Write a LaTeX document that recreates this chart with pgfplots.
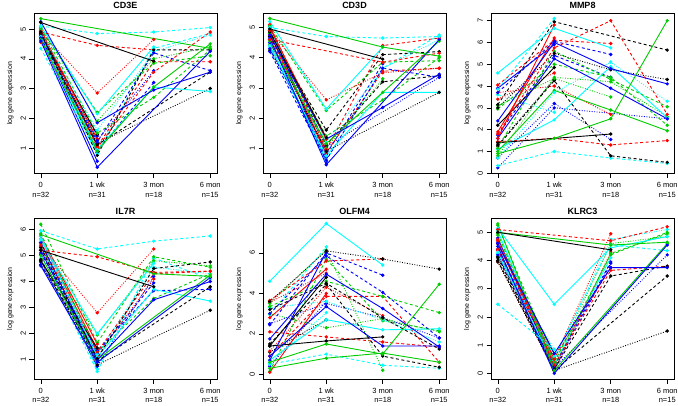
\documentclass[border=0pt]{standalone}
\usepackage{pgfplots}
\pgfplotsset{compat=1.18}
\usepackage{fontspec}
\setmainfont{Liberation Sans}
\definecolor{Rred}{RGB}{255,0,0}
\definecolor{Rgreen}{RGB}{0,205,0}
\definecolor{Rblue}{RGB}{0,0,255}
\definecolor{Rcyan}{RGB}{0,255,255}
\pgfplotsset{
 base/.style={line width=0.9pt, mark=*, mark size=1.2pt, mark options={solid}},
 S/.style={solid}, D/.style={dash pattern=on 3pt off 2.5pt}, T/.style={dash pattern=on 0.9pt off 1.6pt},
 k1/.style={base,black,S}, k2/.style={base,black,D}, k3/.style={base,black,T},
 r1/.style={base,Rred,S}, r2/.style={base,Rred,D}, r3/.style={base,Rred,T},
 g1/.style={base,Rgreen,S}, g2/.style={base,Rgreen,D}, g3/.style={base,Rgreen,T},
 b1/.style={base,Rblue,S}, b2/.style={base,Rblue,D}, b3/.style={base,Rblue,T},
 c1/.style={base,Rcyan,S}, c2/.style={base,Rcyan,D}, c3/.style={base,Rcyan,T},
 panel/.style={
  scale only axis, width=183pt, height=160.5pt,
  xmin=-0.12, xmax=3.12, xtick={0,1,2,3},
  xticklabels={{0\\n=32},{1 wk\\n=31},{3 mon\\n=18},{6 mon\\n=15}},
  tick align=outside, xtick pos=bottom, ytick pos=left, major tick length=4.5pt,
  tick style={black, line width=0.5pt},
  axis line style={line width=0.5pt},
  /pgf/number format/assume math mode=true,
  tick label style={font=\fontsize{7.5}{9.5}\selectfont},
  xticklabel style={align=center, yshift=-1pt},
  yticklabel style={rotate=90, anchor=south},
  ylabel={log gene expression},
  ylabel style={at={(axis description cs:-0.13,0.5)}, anchor=center, font=\fontsize{7}{8}\selectfont},
  every axis title shift=0pt,
  title style={at={(axis description cs:0.5,1)}, anchor=center, yshift=7.5pt, font=\bfseries\fontsize{9}{10}\selectfont},
 }
}
\begin{document}
\begin{tikzpicture}
\useasboundingbox (0,0) rectangle (678pt,405pt);
% ---------------- CD3E
\begin{axis}[panel, at={(34pt,231.5pt)}, anchor=south west, title={CD3E}, ymin=0.14, ymax=5.54, ytick={1,2,3,4,5}]
\addplot[r1] coordinates {(0,4.8)(1,1.1)};
\addplot[b1] coordinates {(0,4.7)(1,0.55)};
\addplot[g3] coordinates {(0,4.9)(1,1.25)};
\addplot[c1] coordinates {(0,4.65)(1,0.8)};
\addplot[r3] coordinates {(0,4.55)(1,1.0)};
\addplot[b2] coordinates {(0,4.9)(1,1.4)};
\addplot[k1] coordinates {(0,4.8)(1,1.45)};
\addplot[r1] coordinates {(0,4.95)(1,1.3)};
\addplot[b3] coordinates {(0,4.75)(1,1.25)(2,3.6)};
\addplot[g2] coordinates {(0,5.05)(1,1.5)(2,2.7)(3,4.3)};
\addplot[c2] coordinates {(0,4.35)(1,0.8)(2,4.35)(3,4.85)};
\addplot[b2] coordinates {(0,4.8)(1,0.9)(2,3.2)};
\addplot[g3] coordinates {(0,5.1)(1,1.9)(2,4.0)(3,4.4)};
\addplot[r2] coordinates {(0,5.0)(1,1.05)(2,3.9)(3,3.9)};
\addplot[k2] coordinates {(0,4.75)(1,1.1)(3,3.55)};
\addplot[c3] coordinates {(0,4.9)(1,1.6)(2,4.25)(3,4.8)};
\addplot[r2] coordinates {(0,4.85)(1,1.0)(2,3.55)(3,4.9)};
\addplot[k3] coordinates {(0,4.85)(1,1.15)(3,3.0)};
\addplot[c1] coordinates {(0,4.75)(1,0.95)(2,3.05)(3,2.9)};
\addplot[b2] coordinates {(0,4.7)(1,1.2)(2,4.2)(3,3.6)};
\addplot[g2] coordinates {(0,5.0)(1,2.2)(2,3.85)(3,4.1)};
\addplot[r3] coordinates {(0,4.9)(1,2.85)(2,4.65)};
\addplot[c2] coordinates {(0,5.1)(1,4.85)(2,4.9)(3,5.05)};
\addplot[r2] coordinates {(0,4.9)(1,4.45)(2,4.3)};
\addplot[k2] coordinates {(0,4.9)(1,0.75)(2,4.3)(3,4.3)};
\addplot[c1] coordinates {(0,5.1)(1,2.15)(2,4.4)};
\addplot[g1] coordinates {(0,4.65)(1,0.9)(2,3.05)(3,4.5)};
\addplot[b1] coordinates {(0,4.6)(1,0.35)(3,4.25)};
\addplot[b1] coordinates {(0,5.25)(1,1.85)(2,2.95)(3,3.55)};
\addplot[g1] coordinates {(0,5.35)(3,4.35)};
\addplot[k1] coordinates {(0,5.22)(2,3.92)};
\end{axis}
% ---------------- CD3D
\begin{axis}[panel, at={(263pt,231.5pt)}, anchor=south west, title={CD3D}, ymin=0.16, ymax=5.48, ytick={1,2,3,4,5}]
\addplot[r1] coordinates {(0,4.8)(1,0.8)};
\addplot[b1] coordinates {(0,5.05)(1,0.55)};
\addplot[g3] coordinates {(0,4.45)(1,1.15)};
\addplot[c1] coordinates {(0,4.6)(1,0.6)};
\addplot[r3] coordinates {(0,4.75)(1,0.9)};
\addplot[k3] coordinates {(0,4.25)(1,0.95)};
\addplot[b2] coordinates {(0,4.4)(1,0.7)};
\addplot[b3] coordinates {(0,4.5)(1,1.05)(3,3.35)};
\addplot[c2] coordinates {(0,4.35)(1,0.6)(2,3.65)(3,4.75)};
\addplot[g2] coordinates {(0,4.85)(1,1.4)(2,2.6)(3,4.0)};
\addplot[k2] coordinates {(0,4.9)(1,1.1)(2,3.2)(3,3.4)};
\addplot[b2] coordinates {(0,4.3)(1,0.8)(2,3.8)};
\addplot[r2] coordinates {(0,4.7)(1,0.85)(2,3.55)(3,3.65)};
\addplot[g3] coordinates {(0,4.8)(1,1.0)(2,3.3)};
\addplot[c3] coordinates {(0,4.95)(1,1.2)(2,3.65)(3,4.6)};
\addplot[b2] coordinates {(0,4.2)(1,0.6)(2,3.65)(3,3.35)};
\addplot[r2] coordinates {(0,5.1)(1,0.95)(2,4.4)(3,4.65)};
\addplot[c1] coordinates {(0,4.4)(1,0.75)(2,2.85)(3,2.85)};
\addplot[k3] coordinates {(0,4.6)(1,0.9)(3,2.85)};
\addplot[k2] coordinates {(0,4.7)(1,1.6)(2,4.1)(3,4.2)};
\addplot[g1] coordinates {(0,4.55)(1,1.15)(2,2.85)(3,4.55)};
\addplot[b1] coordinates {(0,4.65)(1,0.45)(3,4.6)};
\addplot[b1] coordinates {(0,4.75)(1,1.3)(2,2.35)(3,3.45)};
\addplot[r1] coordinates {(0,5.0)(1,1.3)};
\addplot[k1] coordinates {(0,4.85)(1,1.35)};
\addplot[g2] coordinates {(0,5.05)(1,2.25)(2,3.85)(3,3.9)};
\addplot[r3] coordinates {(0,4.9)(1,2.6)(2,3.5)(3,3.65)};
\addplot[c1] coordinates {(0,5.2)(1,2.3)(2,4.35)};
\addplot[r2] coordinates {(0,4.6)(2,3.85)(3,4.15)};
\addplot[c2] coordinates {(0,5.0)(1,4.7)(2,4.65)(3,4.7)};
\addplot[k1] coordinates {(0,4.95)(2,3.95)};
\addplot[g1] coordinates {(0,5.3)(2,4.35)(3,4.05)};
\end{axis}
% ---------------- MMP8
\begin{axis}[panel, at={(491pt,231.5pt)}, anchor=south west, title={MMP8}, ymin=-0.01, ymax=7.35, ytick={0,1,2,3,4,5,6,7}]
\addplot[b1] coordinates {(0,3.9)(1,5.9)};
\addplot[c3] coordinates {(0,3.6)(1,2.8)};
\addplot[k3] coordinates {(0,1.3)(1,4.3)};
\addplot[r3] coordinates {(0,3.7)(1,4.0)(2,2.7)};
\addplot[g3] coordinates {(0,0.8)(1,4.4)(2,4.2)(3,2.6)};
\addplot[b2] coordinates {(0,1.75)(1,5.4)(2,4.4)};
\addplot[r1] coordinates {(0,1.9)(1,6.2)};
\addplot[b3] coordinates {(0,0.25)(1,3.0)(3,2.5)};
\addplot[r3] coordinates {(0,3.4)(1,4.6)};
\addplot[c1] coordinates {(0,1.1)(1,2.45)(2,4.9)(3,2.55)};
\addplot[b3] coordinates {(0,0.7)(1,3.2)(2,1.55)};
\addplot[r2] coordinates {(0,1.45)(1,1.6)(2,1.3)(3,1.5)};
\addplot[c2] coordinates {(0,0.35)(1,1.0)(2,0.7)(3,0.45)};
\addplot[k2] coordinates {(0,1.25)(1,4.25)(2,0.8)(3,0.5)};
\addplot[k1] coordinates {(0,2.2)(1,4.85)};
\addplot[k1] coordinates {(0,1.4)(2,1.8)};
\addplot[g2] coordinates {(0,1.15)(1,5.6)(2,4.3)(3,3.05)};
\addplot[g3] coordinates {(0,3.1)(1,4.35)(2,3.5)};
\addplot[g2] coordinates {(0,2.95)(1,5.0)(2,4.4)(3,2.2)};
\addplot[g1] coordinates {(0,1.0)(1,3.8)(2,2.9)(3,1.95)};
\addplot[c3] coordinates {(0,0.7)(1,3.7)(2,5.1)(3,3.3)};
\addplot[k3] coordinates {(0,3.0)(1,5.5)(2,4.75)(3,4.3)};
\addplot[r2] coordinates {(0,4.05)(1,6.1)(2,5.95)};
\addplot[b2] coordinates {(0,3.7)(1,6.05)(2,5.45)};
\addplot[b1] coordinates {(0,1.6)(1,5.25)(2,3.9)(3,2.5)};
\addplot[b1] coordinates {(0,2.4)(1,6.0)(2,4.8)(3,4.1)};
\addplot[r1] coordinates {(0,1.6)(1,6.8)};
\addplot[r2] coordinates {(0,1.8)(1,5.75)(2,7.0)(3,2.7)};
\addplot[k2] coordinates {(0,3.15)(1,6.95)(3,5.65)};
\addplot[c2] coordinates {(0,3.85)(1,7.1)};
\addplot[c1] coordinates {(0,4.6)(1,6.65)(2,5.75)};
\addplot[g1] coordinates {(0,0.9)(1,1.6)(2,2.5)(3,7.0)};
\end{axis}
% ---------------- IL7R
\begin{axis}[panel, at={(34pt,26pt)}, anchor=south west, title={IL7R}, ymin=0.26, ymax=6.42, ytick={1,2,3,4,5,6}]
\addplot[r1] coordinates {(0,5.65)(1,1.4)};
\addplot[g3] coordinates {(0,5.45)(1,1.2)};
\addplot[b1] coordinates {(0,5.2)(1,0.95)};
\addplot[c1] coordinates {(0,5.4)(1,0.65)};
\addplot[k3] coordinates {(0,4.65)(1,1.1)};
\addplot[r2] coordinates {(0,5.3)(1,1.05)};
\addplot[b3] coordinates {(0,5.05)(1,1.1)};
\addplot[b2] coordinates {(0,4.65)(1,1.25)(2,3.95)};
\addplot[c2] coordinates {(0,4.9)(1,0.55)(2,4.9)(3,4.1)};
\addplot[r3] coordinates {(0,5.35)(1,1.15)(2,4.1)};
\addplot[g2] coordinates {(0,5.85)(1,1.3)(2,3.35)(3,4.3)};
\addplot[b3] coordinates {(0,4.75)(1,0.75)(2,4.2)};
\addplot[c3] coordinates {(0,5.65)(1,1.2)(2,4.55)(3,4.3)};
\addplot[g3] coordinates {(0,5.3)(1,1.95)(2,4.8)(3,4.6)};
\addplot[b2] coordinates {(0,5.1)(1,1.35)(2,3.65)(3,3.7)};
\addplot[r2] coordinates {(0,5.5)(1,1.3)(2,4.3)(3,4.4)};
\addplot[g2] coordinates {(0,6.2)(1,1.65)(2,4.95)(3,4.55)};
\addplot[k1] coordinates {(0,4.8)(1,1.45)};
\addplot[r1] coordinates {(0,5.75)(1,1.6)};
\addplot[c1] coordinates {(0,5.75)(1,1.1)(2,3.7)(3,3.25)};
\addplot[k2] coordinates {(0,4.85)(1,0.95)(3,3.8)};
\addplot[k3] coordinates {(0,4.8)(1,0.8)(3,2.9)};
\addplot[g1] coordinates {(0,5.0)(1,1.0)(3,4.25)};
\addplot[b1] coordinates {(0,4.6)(1,0.9)(3,4.15)};
\addplot[b1] coordinates {(0,5.5)(1,1.0)(2,3.3)(3,4.0)};
\addplot[k2] coordinates {(0,5.3)(1,1.05)(2,4.5)(3,4.75)};
\addplot[c1] coordinates {(0,5.6)(1,2.0)(2,4.7)};
\addplot[r3] coordinates {(0,5.4)(1,2.8)(2,5.25)};
\addplot[r2] coordinates {(0,5.2)(1,4.95)(2,4.35)(3,4.4)};
\addplot[k1] coordinates {(0,5.2)(2,3.8)};
\addplot[g1] coordinates {(0,5.8)(2,4.3)(3,4.2)};
\addplot[c2] coordinates {(0,5.95)(1,5.25)(2,5.55)(3,5.75)};
\end{axis}
% ---------------- OLFM4
\begin{axis}[panel, at={(263pt,26pt)}, anchor=south west, title={OLFM4}, ymin=-0.23, ymax=7.70, ytick={0,2,4,6}]
\addplot[b3] coordinates {(0,0.4)(1,3.6)};
\addplot[k3] coordinates {(0,1.1)(1,2.7)};
\addplot[r3] coordinates {(0,3.55)(1,5.0)};
\addplot[c3] coordinates {(0,0.55)(1,3.05)};
\addplot[g3] coordinates {(0,3.5)(1,6.15)(2,0.2)};
\addplot[r2] coordinates {(0,2.1)(1,1.85)(2,1.6)(3,1.35)};
\addplot[c2] coordinates {(0,2.95)(1,6.3)};
\addplot[g2] coordinates {(0,0.15)(1,5.7)(2,2.65)(3,2.15)};
\addplot[r3] coordinates {(0,1.15)(1,4.3)(2,2.9)};
\addplot[b3] coordinates {(0,2.5)(1,3.5)(2,2.8)(3,1.8)};
\addplot[c3] coordinates {(0,3.3)(1,3.6)(2,2.7)(3,1.6)};
\addplot[g3] coordinates {(0,3.0)(1,2.3)(2,2.75)(3,2.1)};
\addplot[k1] coordinates {(0,1.4)(1,4.8)};
\addplot[r1] coordinates {(0,0.1)(1,4.0)};
\addplot[r1] coordinates {(0,2.8)(1,5.2)};
\addplot[r2] coordinates {(0,0.9)(1,3.85)(2,3.85)(3,0.6)};
\addplot[c2] coordinates {(0,0.5)(1,1.0)(2,0.45)(3,0.3)};
\addplot[c1] coordinates {(0,0.7)(1,2.7)(2,2.2)(3,2.25)};
\addplot[k1] coordinates {(0,1.4)(1,1.65)(2,1.85)};
\addplot[g1] coordinates {(0,0.3)(1,0.8)(2,1.05)(3,0.6)};
\addplot[g2] coordinates {(0,3.35)(1,4.6)(2,3.85)(3,3.05)};
\addplot[k2] coordinates {(0,1.5)(1,4.45)(2,0.9)(3,0.35)};
\addplot[k2] coordinates {(0,3.2)(1,4.5)(2,2.8)(3,1.25)};
\addplot[b1] coordinates {(0,0.9)(1,3.35)(2,1.4)(3,1.4)};
\addplot[b1] coordinates {(0,1.75)(1,4.95)(2,3.25)(3,1.35)};
\addplot[b1] coordinates {(0,0.7)(1,6.05)};
\addplot[b2] coordinates {(0,3.0)(1,5.85)(2,4.05)(3,1.8)};
\addplot[b2] coordinates {(0,2.45)(1,6.0)(2,4.9)};
\addplot[r2] coordinates {(0,3.65)(1,5.6)(2,5.7)};
\addplot[k3] coordinates {(0,3.6)(1,6.1)(2,5.7)(3,5.2)};
\addplot[g1] coordinates {(0,0.6)(1,1.5)(2,1.0)(3,4.45)};
\addplot[c1] coordinates {(0,4.6)(1,7.45)(2,5.4)};
\end{axis}
% ---------------- KLRC3
\begin{axis}[panel, at={(491pt,26pt)}, anchor=south west, title={KLRC3}, ymin=-0.2, ymax=5.49, ytick={0,1,2,3,4,5}]
\addplot[c1] coordinates {(0,5.05)(1,0.3)};
\addplot[k3] coordinates {(0,4.15)(1,0.25)};
\addplot[r1] coordinates {(0,4.35)(1,0.4)};
\addplot[b1] coordinates {(0,4.8)(1,0.2)};
\addplot[c3] coordinates {(0,4.2)(1,0.85)};
\addplot[g3] coordinates {(0,4.6)(1,0.6)};
\addplot[b2] coordinates {(0,4.4)(1,0.15)(2,3.9)};
\addplot[c1] coordinates {(0,4.25)(1,0.3)(2,4.1)};
\addplot[r3] coordinates {(0,3.95)(1,0.1)(2,4.3)};
\addplot[k1] coordinates {(0,4.6)(1,0.7)};
\addplot[g2] coordinates {(0,4.95)(1,0.2)(2,4.25)(3,4.95)};
\addplot[r2] coordinates {(0,4.4)(1,0.55)(2,3.75)};
\addplot[b2] coordinates {(0,4.65)(1,0.25)(2,3.95)};
\addplot[c3] coordinates {(0,4.5)(1,0.45)(2,4.75)(3,5.1)};
\addplot[g3] coordinates {(0,4.9)(1,0.35)(2,4.6)(3,4.85)};
\addplot[r1] coordinates {(0,4.6)(1,0.5)};
\addplot[g2] coordinates {(0,5.25)(1,0.4)(2,4.2)(3,5.0)};
\addplot[b3] coordinates {(0,4.2)(1,0.2)(3,4.2)};
\addplot[c2] coordinates {(0,4.3)(1,0.6)(2,4.55)(3,4.35)};
\addplot[r3] coordinates {(0,4.75)(1,0.5)(2,4.95)};
\addplot[r2] coordinates {(0,4.7)(1,0.3)(2,3.65)(3,3.8)};
\addplot[k3] coordinates {(0,3.95)(1,0.1)(3,1.5)};
\addplot[k2] coordinates {(0,4.0)(1,0.1)(3,3.45)};
\addplot[k2] coordinates {(0,4.1)(1,0.15)(2,3.45)(3,3.8)};
\addplot[g1] coordinates {(0,5.3)(1,0.1)(3,4.6)};
\addplot[b1] coordinates {(0,4.5)(1,0.0)(3,4.55)};
\addplot[b1] coordinates {(0,4.6)(1,0.7)(2,3.75)(3,3.75)};
\addplot[c2] coordinates {(0,2.45)(1,0.85)};
\addplot[c1] coordinates {(0,5.15)(1,2.45)(2,4.45)(3,4.85)};
\addplot[r2] coordinates {(0,5.1)(2,4.7)(3,5.2)};
\addplot[g1] coordinates {(0,5.0)(2,4.55)(3,4.65)};
\addplot[k1] coordinates {(0,5.0)(2,4.38)};
\end{axis}
\end{tikzpicture}
\end{document}
